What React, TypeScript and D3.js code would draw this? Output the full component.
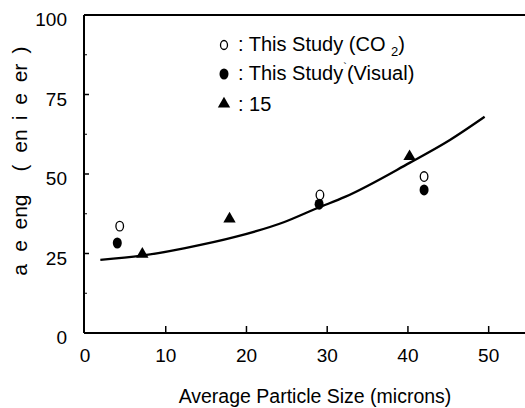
import React from "react";
import * as d3 from "d3";

const xTicks = [0, 10, 20, 30, 40, 50];
const yTicks = [0, 25, 50, 75, 100];
const yMinorTicks = [12.5, 37.5, 62.5, 87.5];

// This Study (CO2) - open circles
const co2X = [4.3, 29.1, 42.0];
const co2Y = [33.6, 43.4, 49.2];
// This Study (Visual) - filled circles
const visX = [4.0, 29.0, 42.0];
const visY = [28.3, 40.5, 45.0];
// Ref 15 - triangles
const refX = [7.1, 17.9, 40.2];
const refY = [24.8, 35.9, 55.5];
// Fitted curve
const curveX = [1.9, 7, 12.4, 18.6, 24.7, 28.8, 32.2, 40.2, 45.2, 49.5];
const curveY = [23.0, 24.3, 26.7, 30.2, 34.9, 39.3, 42.8, 53.5, 60.7, 68.0];

// y axis title (as printed, broken glyphs), pieces from bottom to top
const yTitlePieces = ["a", "e", "eng", "(", "en", "i", "e", "er", ")"];

const font = "'Liberation Sans', Arial, sans-serif";

export default function App() {
  const x = d3.scaleLinear().domain([0, 54.5]).range([85, 525]);
  const y = d3.scaleLinear().domain([0, 100]).range([333, 15]);
  const line = d3
    .line<number>()
    .x((_, i) => x(curveX[i]))
    .y((d) => y(d))
    .curve(d3.curveMonotoneX);
  const tri = d3.symbol().type(d3.symbolTriangle).size(66);
  const x0 = 84;
  const pieceCenters = [270, 246, 212, 168, 141, 118, 99, 73, 50];
  return (
    <svg
      width={525}
      height={408}
      style={{ position: "absolute", left: 0, top: 0, background: "#fff" }}
      fontFamily={font}
    >
      {/* frame */}
      <line x1={x0} x2={x0} y1={y(100)} y2={y(0)} stroke="#000" strokeWidth={2} />
      <line x1={x0} x2={525} y1={y(0)} y2={y(0)} stroke="#000" strokeWidth={2} />
      <line x1={x0} x2={525} y1={y(100)} y2={y(100)} stroke="#000" strokeWidth={2} />
      {/* y ticks */}
      {yTicks.map((t) => (
        <g key={"y" + t}>
          <line x1={x0} x2={x0 + 5} y1={y(t)} y2={y(t)} stroke="#000" strokeWidth={1.5} />
          <text x={67} y={y(t)} dy={11} textAnchor="end" fontSize={19}>
            {t}
          </text>
        </g>
      ))}
      {yMinorTicks.map((t) => (
        <line key={"ym" + t} x1={x0} x2={x0 + 3} y1={y(t)} y2={y(t)} stroke="#000" strokeWidth={1} />
      ))}
      {/* x ticks */}
      {xTicks.map((t) => (
        <g key={"x" + t}>
          {t > 0 && (
            <line x1={x(t)} x2={x(t)} y1={y(0)} y2={y(0) - 7} stroke="#000" strokeWidth={1.5} />
          )}
          <text x={x(t)} y={362} textAnchor="middle" fontSize={19}>
            {t}
          </text>
        </g>
      ))}
      {/* axis titles */}
      <text x={315} y={403} textAnchor="middle" fontSize={19.5}>
        Average Particle Size (microns)
      </text>
      {yTitlePieces.map((p, i) => (
        <text
          key={"yt" + i}
          transform={`translate(27,${pieceCenters[i]}) rotate(-90)`}
          textAnchor="middle"
          fontSize={21}
        >
          {p}
        </text>
      ))}
      {/* curve */}
      <path d={line(curveY) || ""} fill="none" stroke="#000" strokeWidth={2.3} />
      {/* data */}
      {co2X.map((v, i) => (
        <ellipse key={"c" + i} cx={x(v)} cy={y(co2Y[i])} rx={3.8} ry={4.8} fill="#fff" stroke="#000" strokeWidth={1.3} />
      ))}
      {visX.map((v, i) => (
        <ellipse key={"v" + i} cx={x(v)} cy={y(visY[i])} rx={4.5} ry={5.5} fill="#000" />
      ))}
      {refX.map((v, i) => (
        <path key={"r" + i} d={tri() || ""} transform={`translate(${x(v)},${y(refY[i])})`} fill="#000" />
      ))}
      {/* legend */}
      <ellipse cx={224} cy={45} rx={3.5} ry={4.5} fill="#fff" stroke="#000" strokeWidth={1.3} />
      <text x={238} y={51} fontSize={20}>
        {": This Study (CO "}
        <tspan fontSize={13} dy={5}>2</tspan>
        <tspan dy={-5}>)</tspan>
      </text>
      <ellipse cx={224} cy={74} rx={4.5} ry={5.5} fill="#000" />
      <text x={238} y={80} fontSize={20}>
        {": This Study"}
        <tspan fontSize={11} dy={-9}>`</tspan>
        <tspan dy={9}>(Visual)</tspan>
      </text>
      <path d={tri() || ""} transform="translate(224,104)" fill="#000" />
      <text x={238} y={111} fontSize={20}>
        {": 15"}
      </text>
    </svg>
  );
}
